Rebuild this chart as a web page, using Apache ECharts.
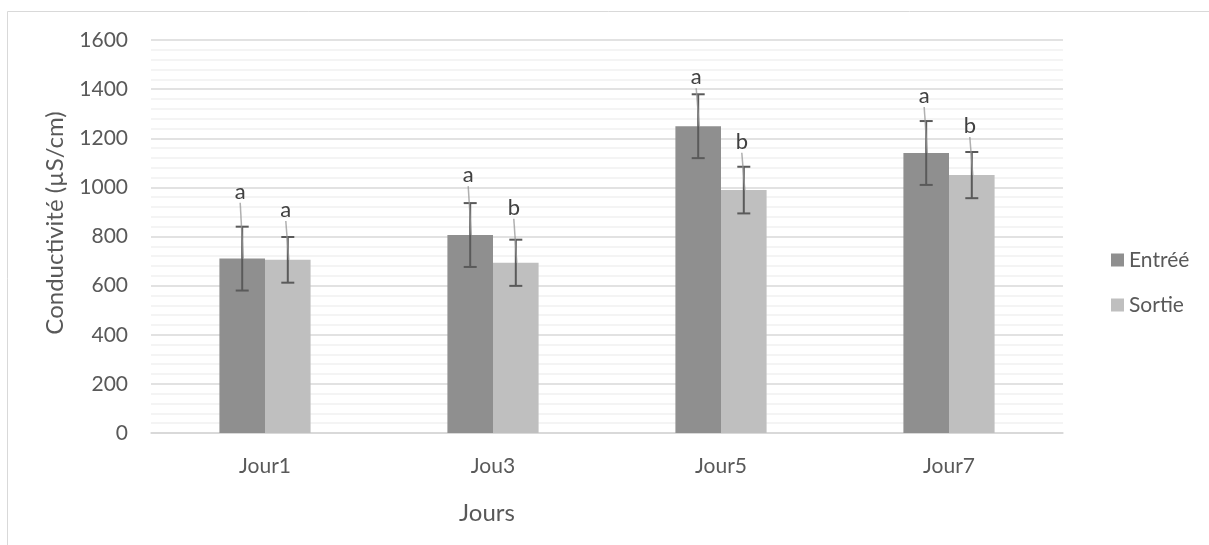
<!DOCTYPE html>
<html>
<head>
<meta charset="utf-8">
<script src="https://cdn.jsdelivr.net/npm/echarts@6/dist/echarts.min.js"></script>
<style>
  html, body { margin: 0; padding: 0; background: #ffffff; }
  #chart { width: 1209px; height: 545px; }
</style>
</head>
<body>
<div id="chart"></div>
<script>
// Conductivity at inlet / outlet per sampling day, mean ± SD
const categories = ['Jour1', 'Jou3', 'Jour5', 'Jour7'];
const entree = [710, 806, 1249, 1140];
const sortie = [705, 693, 989, 1050];
const entreeSd = [130, 130, 130, 130];
const sortieSd = [93, 94, 95, 94];
const entreeLetters = ['a', 'a', 'a', 'a'];
const sortieLetters = ['a', 'b', 'b', 'b'];
const yTicks = [0, 200, 400, 600, 800, 1000, 1200, 1400, 1600];

// Manual placement of the significance letters (pixels above the error-bar cap)
const entreeLift = [35, 28, 17, 25];
const sortieLift = [27, 32, 25, 26];

const FONT = 'Lato, "Open Sans", sans-serif';
const TEXT = '#595959';

const chart = echarts.init(document.getElementById('chart'), null, { renderer: 'canvas' });

function errorBarSeries(name, values, sds, side) {
  return {
    type: 'custom',
    name: name + ' SD',
    z: 4,
    data: values.map((v, i) => [i, v - sds[i], v + sds[i]]),
    renderItem(params, api) {
      const i = api.value(0);
      const band = api.size([1, 0])[0];
      const dx = side * band * 0.1;
      const lo = api.coord([i, api.value(1)]);
      const hi = api.coord([i, api.value(2)]);
      const x = lo[0] + dx;
      const cap = 6.5;
      const st = { stroke: '#5a5a5a', lineWidth: 2 };
      return {
        type: 'group',
        children: [
          { type: 'line', shape: { x1: x, y1: hi[1], x2: x, y2: lo[1] }, style: st },
          { type: 'line', shape: { x1: x - cap, y1: hi[1], x2: x + cap, y2: hi[1] }, style: st },
          { type: 'line', shape: { x1: x - cap, y1: lo[1], x2: x + cap, y2: lo[1] }, style: st }
        ]
      };
    }
  };
}

function letterSeries(name, values, sds, letters, lifts, side) {
  return {
    type: 'custom',
    name: name + ' lettres',
    z: 5,
    data: values.map((v, i) => [i, v, v + sds[i]]),
    renderItem(params, api) {
      const idx = params.dataIndex;
      const i = api.value(0);
      const band = api.size([1, 0])[0];
      const dx = side * band * 0.1;
      const top = api.coord([i, api.value(1)]);
      const cap = api.coord([i, api.value(2)]);
      const cx = top[0] + dx;
      const ly = cap[1] - lifts[idx];
      const lx = cx - 2;
      return {
        type: 'group',
        children: [
          {
            type: 'line',
            shape: { x1: lx, y1: ly + 11, x2: cx + 1, y2: top[1] },
            style: { stroke: 'rgba(150,150,150,0.75)', lineWidth: 1.5 }
          },
          {
            type: 'text',
            style: {
              x: lx, y: ly, text: letters[idx],
              fill: '#404040', font: '22px ' + FONT,
              align: 'center', verticalAlign: 'middle'
            }
          }
        ]
      };
    }
  };
}

const option = {
  animation: false,
  backgroundColor: '#ffffff',
  textStyle: { fontFamily: FONT },
  grid: { left: 151, right: 146, top: 40, bottom: 112, containLabel: false },
  legend: {
    data: ['Entréé', 'Sortie'],
    orient: 'vertical',
    left: 1106,
    top: 244,
    itemWidth: 13,
    itemHeight: 13,
    itemGap: 23,
    icon: 'rect',
    textStyle: { color: TEXT, fontSize: 21, fontFamily: FONT, lineHeight: 22, padding: [0, 0, 0, 0] },
    selectedMode: false
  },
  xAxis: {
    type: 'category',
    data: categories,
    axisTick: { show: false },
    axisLine: { show: true, lineStyle: { color: '#d6d6d6', width: 1.5 } },
    axisLabel: { color: TEXT, fontSize: 21, fontFamily: FONT, margin: 23 },
    splitLine: { show: false }
  },
  yAxis: {
    type: 'value',
    min: yTicks[0],
    max: yTicks[yTicks.length - 1],
    interval: yTicks[1] - yTicks[0],
    axisLine: { show: false },
    axisTick: { show: false },
    axisLabel: {
      color: TEXT, fontSize: 21, fontFamily: FONT, margin: 23,
      formatter: (v) => String(v)
    },
    splitLine: { show: true, lineStyle: { color: '#d9d9d9', width: 1.5 } },
    minorTick: { show: false, splitNumber: 5 },
    minorSplitLine: { show: true, lineStyle: { color: '#f1f1f1', width: 1.5 } }
  },
  graphic: [
    {
      type: 'rect',
      silent: true,
      shape: { x: 7.5, y: 11.5, width: 1220, height: 560 },
      style: { fill: 'none', stroke: '#d9d9d9', lineWidth: 1 }
    },
    {
      type: 'text',
      x: 55, y: 223,
      rotation: Math.PI / 2,
      style: {
        text: 'Conductivité (µS/cm)',
        fill: TEXT, font: '24px ' + FONT,
        align: 'center', verticalAlign: 'middle'
      }
    },
    {
      type: 'text',
      x: 487, y: 513,
      style: {
        text: 'Jours',
        fill: TEXT, font: '24px ' + FONT,
        align: 'center', verticalAlign: 'middle'
      }
    }
  ],
  series: [
    {
      name: 'Entréé',
      type: 'bar',
      data: entree,
      barWidth: '20%',
      barGap: '0%',
      itemStyle: { color: '#8f8f8f' },
      z: 2
    },
    {
      name: 'Sortie',
      type: 'bar',
      data: sortie,
      barWidth: '20%',
      barGap: '0%',
      itemStyle: { color: '#bfbfbf' },
      z: 2
    },
    errorBarSeries('Entréé', entree, entreeSd, -1),
    errorBarSeries('Sortie', sortie, sortieSd, 1),
    letterSeries('Entréé', entree, entreeSd, entreeLetters, entreeLift, -1),
    letterSeries('Sortie', sortie, sortieSd, sortieLetters, sortieLift, 1)
  ]
};

chart.setOption(option);
</script>
</body>
</html>
